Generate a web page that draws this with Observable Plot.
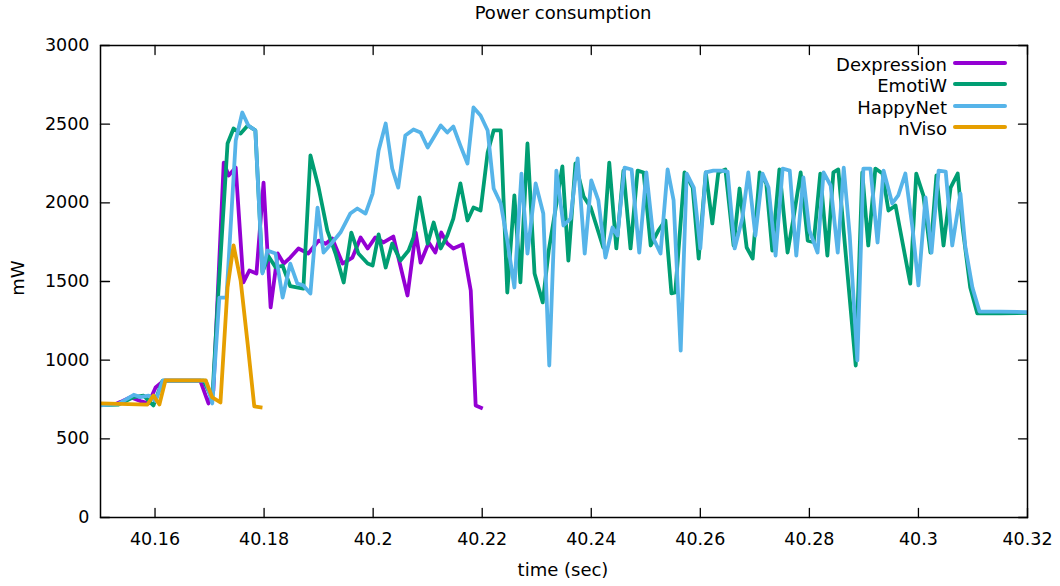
<!DOCTYPE html>
<html>
<head>
<meta charset="utf-8">
<script src="https://cdn.jsdelivr.net/npm/d3@7"></script>
<script src="https://cdn.jsdelivr.net/npm/@observablehq/plot@0.6"></script>
<style>
  body { margin: 0; background: #fff; font-family: "DejaVu Sans", sans-serif; }
  #wrap { position: relative; width: 1060px; height: 586px; overflow: hidden; }
  .txt { position: absolute; font-size: 18px; line-height: 21px; color: #000; white-space: nowrap; }
  .swatch { position: absolute; height: 4px; border-radius: 2px; }
</style>
</head>
<body>
<div id="wrap"><div id="chart"></div></div>
<script>
// ---- data (time in s, power in mW) ----
const seriesNames = ["Dexpression", "EmotiW", "HappyNet", "nViso"];
const seriesColors = ["#9400d3", "#009e73", "#56b4e9", "#e69f00"];

const dexT = [40.1506,40.1528,40.1537,40.1555,40.1573,40.1588,40.1601,40.1616,40.1683,40.1698,40.1707,40.1726,40.1735,40.1748,40.1762,40.1773,40.1786,40.1799,40.1812,40.1825,40.1836,40.1848,40.1863,40.1881,40.1900,40.1913,40.1925,40.1944,40.1962,40.1977,40.1990,40.2004,40.2019,40.2037,40.2063,40.2078,40.2087,40.2102,40.2114,40.2125,40.2136,40.2147,40.2164,40.2179,40.2188,40.2201];
const dexW = [720,722,735,765,740,725,826,870,870,725,807,2256,2174,2224,1494,1570,1551,2129,1335,1678,1614,1652,1710,1678,1760,1740,1773,1614,1652,1780,1710,1780,1748,1786,1411,1811,1620,1748,1684,1811,1741,1710,1735,1443,712,693];

const emoT = [40.1500,40.1533,40.1561,40.1579,40.1597,40.1614,40.1689,40.1705,40.1716,40.1733,40.1744,40.1757,40.1770,40.1784,40.1797,40.1808,40.1821,40.1834,40.1848,40.1872,40.1885,40.1900,40.1916,40.1931,40.1946,40.1960,40.1973,40.1990,40.1999,40.2010,40.2023,40.2035,40.2050,40.2065,40.2074,40.2085,40.2100,40.2111,40.2124,40.2136,40.2147,40.2160,40.2173,40.2184,40.2197,40.2210,40.2221,40.2234,40.2246,40.2259,40.2270,40.2283,40.2296,40.2311,40.2322,40.2334,40.2347,40.2358,40.2371,40.2386,40.2399,40.2422,40.2433,40.2446,40.2459,40.2472,40.2485,40.2496,40.2509,40.2523,40.2536,40.2547,40.2554,40.2571,40.2586,40.2597,40.2610,40.2622,40.2633,40.2646,40.2661,40.2672,40.2685,40.2696,40.2709,40.2721,40.2732,40.2745,40.2760,40.2771,40.2784,40.2797,40.2808,40.2820,40.2833,40.2844,40.2853,40.2866,40.2885,40.2897,40.2908,40.2921,40.2934,40.2945,40.2958,40.2985,40.2996,40.3009,40.3022,40.3033,40.3046,40.3059,40.3072,40.3081,40.3095,40.3108,40.3151,40.3200];
const emoW = [715,718,765,775,712,870,870,756,1424,2377,2472,2440,2492,2460,1560,1660,1590,1600,1470,1455,2301,2097,1824,1678,1494,1811,1678,1614,1601,1799,1589,1741,1633,1697,1780,2034,1741,1875,1710,1792,1900,2123,1888,1970,1951,2320,2460,2460,1430,2047,1494,2377,1551,1367,1697,1950,2231,1633,2250,2040,1970,1716,2256,1710,2205,1710,2205,2193,1729,1824,1888,1424,1430,2193,2097,1646,2193,1869,2193,2212,1729,2091,1716,1646,2193,2123,1697,2212,1684,1907,2193,1760,1750,2186,1665,2193,2212,1700,966,2193,1729,2218,2186,1951,1983,1487,2186,2047,1684,2174,1729,2097,2186,1843,1462,1297,1297,1300];

const hapT = [40.1500,40.1533,40.1561,40.1573,40.1588,40.1601,40.1614,40.1693,40.1705,40.1718,40.1731,40.1748,40.1760,40.1771,40.1784,40.1797,40.1806,40.1821,40.1834,40.1848,40.1861,40.1872,40.1885,40.1898,40.1909,40.1925,40.1940,40.1958,40.1971,40.1986,40.1999,40.2010,40.2023,40.2035,40.2046,40.2059,40.2074,40.2087,40.2100,40.2111,40.2124,40.2136,40.2147,40.2160,40.2173,40.2184,40.2197,40.2210,40.2221,40.2234,40.2246,40.2259,40.2272,40.2283,40.2298,40.2312,40.2323,40.2336,40.2349,40.2362,40.2375,40.2388,40.2400,40.2413,40.2426,40.2439,40.2448,40.2461,40.2474,40.2488,40.2501,40.2514,40.2527,40.2540,40.2551,40.2564,40.2575,40.2588,40.2600,40.2610,40.2624,40.2637,40.2650,40.2663,40.2677,40.2688,40.2701,40.2714,40.2725,40.2738,40.2751,40.2764,40.2776,40.2789,40.2800,40.2815,40.2826,40.2839,40.2852,40.2863,40.2874,40.2888,40.2899,40.2912,40.2925,40.2936,40.2952,40.2963,40.2976,40.2989,40.3000,40.3013,40.3024,40.3037,40.3050,40.3062,40.3077,40.3086,40.3099,40.3112,40.3151,40.3200];
const hapW = [712,722,780,765,775,740,870,870,725,1398,1398,2396,2574,2492,2460,1551,1697,1678,1398,1614,1487,1475,1424,1970,1684,1748,1811,1932,1964,1932,2059,2333,2504,2218,2097,2428,2466,2447,2352,2415,2492,2447,2485,2364,2250,2606,2555,2460,2091,1996,1760,1462,2186,1678,2123,1932,966,2205,1856,1900,2282,1678,2142,2015,1652,1843,1792,2224,2212,1684,2193,1773,1678,2212,2015,1061,2186,2097,1710,2193,2205,2205,2199,1710,1900,2193,1792,2186,2097,1665,2218,2205,1665,2161,1824,1684,2193,2110,1684,2224,1792,998,2218,2218,1748,2205,1996,2047,2186,1843,1475,2034,1684,2205,2199,1729,2059,1720,1462,1309,1309,1305];

const nviT = [40.1500,40.1586,40.1597,40.1608,40.1619,40.1693,40.1705,40.1720,40.1733,40.1744,40.1757,40.1770,40.1782,40.1797];
const nviW = [725,718,775,718,871,871,763,731,1462,1729,1506,1100,706,699];

const xTicks = [40.16, 40.18, 40.2, 40.22, 40.24, 40.26, 40.28, 40.3, 40.32];
const yTicks = [0, 500, 1000, 1500, 2000, 2500, 3000];

// ---- build table ----
const seriesT = [dexT, emoT, hapT, nviT];
const seriesW = [dexW, emoW, hapW, nviW];
const rows = [];
seriesNames.forEach((name, i) => {
  seriesT[i].forEach((t, j) => rows.push({t, w: seriesW[i][j], s: name}));
});

const fmtX = d => String(Math.round(d * 100) / 100);
// a plain straight tick shape for Plot.vector
const tickShape = {draw(context, l) { context.moveTo(0, 0); context.lineTo(0, -l); }};
const tickStyle = {length: 9, anchor: "start", shape: tickShape, stroke: "#000", strokeWidth: 1.3};

const chart = Plot.plot({
  width: 1060,
  height: 586,
  marginLeft: 100,
  marginRight: 33,
  marginTop: 45,
  marginBottom: 69,
  style: {fontFamily: "DejaVu Sans, sans-serif", fontSize: "17.5px", color: "#000", background: "#fff"},
  x: {domain: [40.15, 40.32]},
  y: {domain: [0, 3000]},
  color: {domain: seriesNames, range: seriesColors},
  marks: [
    Plot.line(rows, {x: "t", y: "w", z: "s", stroke: "s", strokeWidth: 3.8, strokeLinejoin: "round", strokeLinecap: "butt"}),
    Plot.frame({stroke: "#000", strokeWidth: 1.5}),
    // inward mirrored ticks
    Plot.vector(xTicks, {x: d => d, frameAnchor: "bottom", rotate: 0, ...tickStyle}),
    Plot.vector(xTicks, {x: d => d, frameAnchor: "top", rotate: 180, ...tickStyle}),
    Plot.vector(yTicks, {y: d => d, frameAnchor: "left", rotate: 90, ...tickStyle}),
    Plot.vector(yTicks, {y: d => d, frameAnchor: "right", rotate: 270, ...tickStyle}),
    // tick labels
    Plot.axisX(xTicks, {anchor: "bottom", tickSize: 0, tickPadding: 15, tickFormat: fmtX, label: null, fontSize: 17.5}),
    Plot.axisY(yTicks, {anchor: "left", tickSize: 0, tickPadding: 11, tickFormat: d => String(d), label: null, fontSize: 17.5})
  ]
});
document.getElementById("chart").appendChild(chart);

// ---- text overlays: title, axis labels, legend ----
const wrap = document.getElementById("wrap");
function addText(str, css) {
  const el = document.createElement("div");
  el.className = "txt";
  el.textContent = str;
  Object.assign(el.style, css);
  wrap.appendChild(el);
  return el;
}
addText("Power consumption", {left: "563px", top: "2px", transform: "translateX(-50%)"});
addText("time (sec)", {left: "563px", top: "559px", transform: "translateX(-50%)"});
addText("mW", {left: "17px", top: "278px", transform: "translate(-50%,-50%) rotate(-90deg)"});

seriesNames.forEach((name, i) => {
  const yc = 63.3 + i * 21.1;
  addText(name, {right: (1060 - 947) + "px", top: (yc - 9) + "px", textAlign: "right"});
  const sw = document.createElement("div");
  sw.className = "swatch";
  Object.assign(sw.style, {left: "953px", width: "54px", top: (yc - 2) + "px", background: seriesColors[i]});
  wrap.appendChild(sw);
});
</script>
</body>
</html>
